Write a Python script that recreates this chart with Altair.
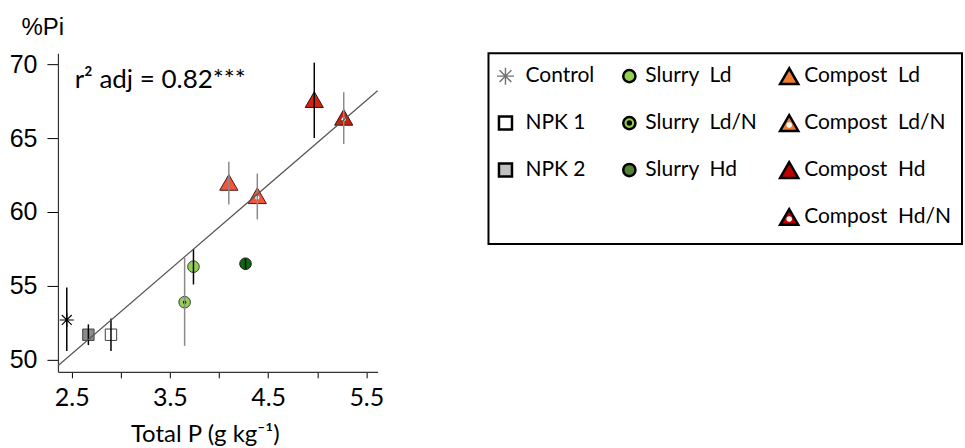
import altair as alt
import pandas as pd

# ---------------- data ----------------
groups = ["Control", "NPK 1", "NPK 2", "Slurry Ld", "Slurry Ld/N", "Slurry Hd",
          "Compost Ld", "Compost Ld/N", "Compost Hd", "Compost Hd/N"]
total_p = [2.45, 2.90, 2.67, 3.74, 3.65, 4.27, 4.10, 4.39, 4.97, 5.27]
pi_pct = [52.7, 51.7, 51.7, 56.3, 53.9, 56.5, 62.0, 61.1, 67.6, 66.4]
err_lo = [50.6, 50.6, 51.0, 55.1, 50.95, 56.15, 60.5, 59.5, 65.0, 64.6]
err_hi = [54.9, 52.8, 52.4, 57.5, 56.9, 56.85, 63.4, 62.6, 70.1, 68.1]
err_dark = [True, True, True, True, False, True, False, False, True, False]

fit_x = [2.36, 5.615]
fit_y = [49.6, 68.2]

annot_x = [2.53]
annot_y = [68.4]
annot_text = ["r\u00b2 adj = 0.82***"]

x_ticks = [2.5, 3.0, 3.5, 4.0, 4.5, 5.0, 5.5]
y_ticks = [50, 55, 60, 65, 70]

legend_labels = ["Control", "NPK 1", "NPK 2",
                 "Slurry\u00a0\u00a0Ld", "Slurry\u00a0\u00a0Ld/N", "Slurry\u00a0\u00a0Hd",
                 "Compost\u00a0\u00a0Ld", "Compost\u00a0\u00a0Ld/N", "Compost\u00a0\u00a0Hd",
                 "Compost\u00a0\u00a0Hd/N"]
leg_col = [0, 0, 0, 1, 1, 1, 2, 2, 2, 2]
leg_row = [0, 1, 2, 0, 1, 2, 0, 1, 2, 3]

# ---------------- styles ----------------
ASTER = "M-1,0L1,0M0,-1L0,1M-0.7,-0.7L0.7,0.7M-0.7,0.7L0.7,-0.7"
plot_fills = ["#000000", "#FFFFFF", "#8C8C8C", "#92D050", "#92D050", "#0A6A0A",
              "#F2553A", "#F2553A", "#D2230C", "#C8200A"]
plot_strokes = ["#000000", "#404040", "#404040", "#3a3a3a", "#3a3a3a", "#1a1a1a",
                "#4a1a10", "#4a1a10", "#3a1008", "#3a1008"]
leg_fills = ["#000000", "#FFFFFF", "#C0C0C0", "#92D050", "#92D050", "#548235",
             "#ED7D31", "#ED7D31", "#C00000", "#C00000"]
leg_strokes = ["#707070"] + ["#000000"] * 9

SANS = "Liberation Sans"
CAL = "Lato"

df = pd.DataFrame({"group": groups, "total_p": total_p, "pi": pi_pct,
                   "lo": err_lo, "hi": err_hi, "dark": err_dark})
fit_df = pd.DataFrame({"total_p": fit_x, "pi": fit_y})
annot_df = pd.DataFrame({"total_p": annot_x, "pi": annot_y, "t": annot_text})
leg_df = pd.DataFrame({"group": groups, "label": legend_labels,
                       "col": leg_col, "row": leg_row})


def sel(names):
    return alt.FieldOneOfPredicate(field="group", oneOf=names)


# ---------------- main plot ----------------
xs = alt.Scale(domain=[2.36, 5.615], nice=False, zero=False)
ys = alt.Scale(domain=[49.19, 70.74], nice=False, zero=False)

xaxis = alt.Axis(values=x_ticks,
                 labelExpr="(round(datum.value*2) % 2 == 1) ? format(datum.value, '.1f') : ''",
                 labelFont=CAL, labelFontSize=25, labelColor="black",
                 labelPadding=8, labelFlush=False, labelOverlap=False,
                 tickSize=6, tickColor="black", tickWidth=1,
                 domainColor="#333333", domainWidth=1.2, grid=False,
                 title="Total P (g kg\u207b\u00b9)", titleFont=CAL, titleFontSize=24,
                 titleFontWeight="normal", titleColor="black", titlePadding=12,
                 titleAlign="center", titleX=147)
yaxis = alt.Axis(values=y_ticks, labelFont=SANS, labelFontSize=25, labelColor="black",
                 labelPadding=10, labelFlush=False, labelOverlap=False,
                 tickSize=11, tickColor="black", tickWidth=1,
                 domainColor="#333333", domainWidth=1.2, grid=False,
                 title="%Pi", titleFont=SANS, titleFontSize=24, titleFontWeight="normal",
                 titleColor="black", titleAngle=0, titleAlign="left",
                 titleBaseline="top", titleX=-37, titleY=-38)

X = alt.X("total_p:Q", scale=xs, axis=xaxis)
Y = alt.Y("pi:Q", scale=ys, axis=yaxis)
fill_p = alt.Fill("group:N", scale=alt.Scale(domain=groups, range=plot_fills), legend=None)
stroke_p = alt.Stroke("group:N", scale=alt.Scale(domain=groups, range=plot_strokes), legend=None)

base = alt.Chart(df)
p_star = base.transform_filter(sel(["Control"])).mark_point(
    shape=ASTER, filled=False, opacity=1, size=200, strokeWidth=1.1, color="black"
).encode(x=X, y=Y)
p_sq = base.transform_filter(sel(["NPK 1", "NPK 2"])).mark_point(
    shape="square", filled=True, opacity=1, size=130, strokeWidth=1
).encode(x=X, y=Y, fill=fill_p, stroke=stroke_p)
p_ci = base.transform_filter(sel(["Slurry Ld", "Slurry Ld/N", "Slurry Hd"])).mark_point(
    shape="circle", filled=True, opacity=1, size=135, strokeWidth=1
).encode(x=X, y=Y, fill=fill_p, stroke=stroke_p)
p_tri = base.transform_filter(sel(["Compost Ld", "Compost Ld/N", "Compost Hd", "Compost Hd/N"])).mark_point(
    shape="triangle-up", filled=True, opacity=1, size=330, strokeWidth=1
).encode(x=X, y=Y, fill=fill_p, stroke=stroke_p)
p_dot_b = base.transform_filter(sel(["Slurry Ld/N"])).mark_point(
    shape="circle", filled=True, opacity=1, size=12, color="black"
).encode(x=X, y=Y)
p_dot_w = base.transform_filter(sel(["Compost Ld/N", "Compost Hd/N"])).mark_point(
    shape="circle", filled=True, opacity=1, size=18, color="white", yOffset=2
).encode(x=X, y=Y)

err_dark_l = base.transform_filter("datum.dark").mark_rule(color="black", strokeWidth=1.5).encode(
    x=X, y=alt.Y("lo:Q", scale=ys, axis=yaxis), y2="hi:Q")
err_gray_l = base.transform_filter("!datum.dark").mark_rule(color="#8a8a8a", strokeWidth=1.5).encode(
    x=X, y=alt.Y("lo:Q", scale=ys, axis=yaxis), y2="hi:Q")

fit = alt.Chart(fit_df).mark_line(color="#555555", strokeWidth=1.2).encode(x=X, y=Y)

annot = alt.Chart(annot_df).mark_text(
    align="left", baseline="alphabetic", font=CAL, fontSize=26, color="black"
).encode(x=X, y=Y, text="t:N")

plot = alt.layer(p_star, p_sq, p_ci, p_tri, p_dot_b, p_dot_w,
                 err_dark_l, err_gray_l, fit, annot).properties(
    width=320, height=319,
    view=alt.ViewBackground(stroke="transparent", strokeWidth=0))

# ---------------- legend panel ----------------
lx = alt.Scale(domain=[0, 1, 2], range=[17, 141, 301], nice=False, zero=False)
ltx = alt.Scale(domain=[0, 1, 2], range=[37, 157, 316], nice=False, zero=False)
ly = alt.Scale(domain=[0, 3], range=[23, 164], nice=False, zero=False)
LX = alt.X("col:Q", scale=lx, axis=None)
LY = alt.Y("row:Q", scale=ly, axis=None)
fill_l = alt.Fill("group:N", scale=alt.Scale(domain=groups, range=leg_fills), legend=None)
stroke_l = alt.Stroke("group:N", scale=alt.Scale(domain=groups, range=leg_strokes), legend=None)

lbase = alt.Chart(leg_df)
l_star = lbase.transform_filter(sel(["Control"])).mark_point(
    shape=ASTER, filled=False, opacity=1, size=290, strokeWidth=1.4, color="#707070"
).encode(x=LX, y=LY)
l_sq = lbase.transform_filter(sel(["NPK 1", "NPK 2"])).mark_point(
    shape="square", filled=True, opacity=1, size=170, strokeWidth=2.5
).encode(x=LX, y=LY, fill=fill_l, stroke=stroke_l)
l_ci = lbase.transform_filter(sel(["Slurry Ld", "Slurry Ld/N", "Slurry Hd"])).mark_point(
    shape="circle", filled=True, opacity=1, size=150, strokeWidth=2.5
).encode(x=LX, y=LY, fill=fill_l, stroke=stroke_l)
l_tri = lbase.transform_filter(sel(["Compost Ld", "Compost Ld/N", "Compost Hd", "Compost Hd/N"])).mark_point(
    shape="triangle-up", filled=True, opacity=1, size=330, strokeWidth=2.5
).encode(x=LX, y=LY, fill=fill_l, stroke=stroke_l)
l_dot_b = lbase.transform_filter(sel(["Slurry Ld/N"])).mark_point(
    shape="circle", filled=True, opacity=1, size=30, color="black"
).encode(x=LX, y=LY)
l_dot_w = lbase.transform_filter(sel(["Compost Ld/N", "Compost Hd/N"])).mark_point(
    shape="circle", filled=True, opacity=1, size=30, color="white", yOffset=2
).encode(x=LX, y=LY)
l_text = lbase.mark_text(align="left", baseline="middle", font=CAL, fontSize=21,
                         color="black").encode(
    x=alt.X("col:Q", scale=ltx, axis=None), y=LY, text="label:N")

legend = alt.layer(l_star, l_sq, l_ci, l_tri, l_dot_b, l_dot_w, l_text).resolve_scale(
    x="independent").properties(
    width=474, height=191,
    view=alt.ViewBackground(stroke="black", strokeWidth=2))

chart = alt.hconcat(plot, legend, spacing=111, bounds="flush").resolve_scale(
    x="independent", y="independent", fill="independent", stroke="independent"
).properties(
    padding={"left": 9, "top": 15, "right": 2, "bottom": 0}
).configure_view(stroke=None).configure(background="white")

chart.save("out.html", embed_options={"renderer": "svg", "actions": False})
